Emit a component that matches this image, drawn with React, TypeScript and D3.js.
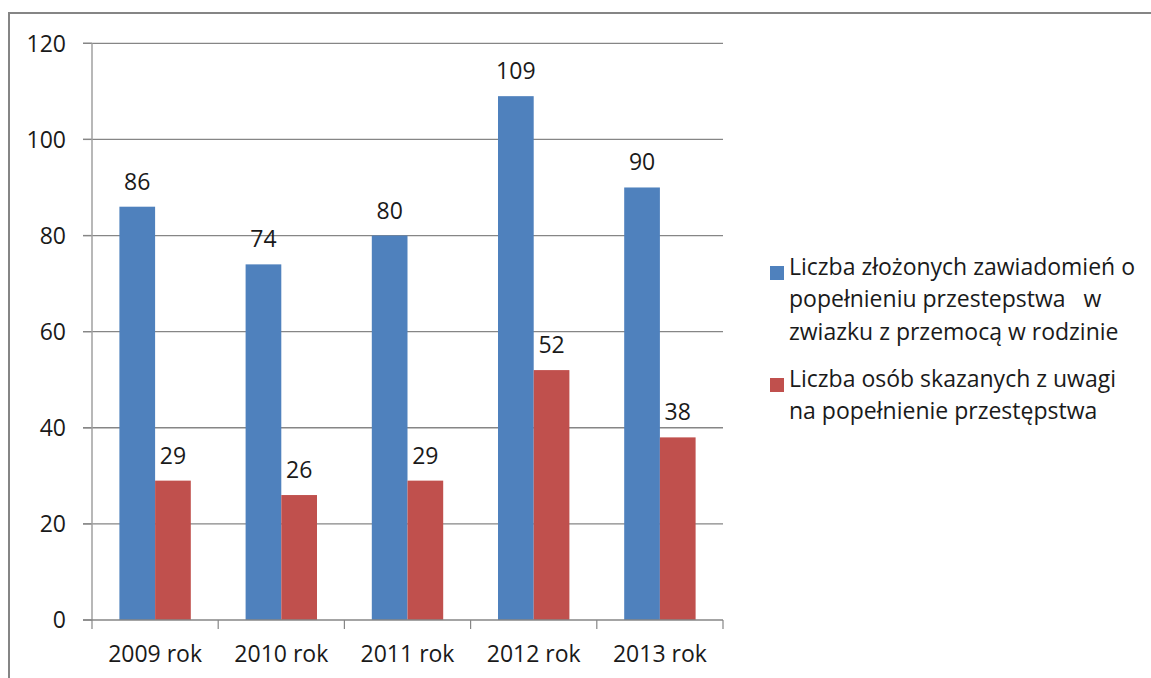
import React from "react";
import * as d3 from "d3";

const years = ["2009 rok", "2010 rok", "2011 rok", "2012 rok", "2013 rok"];
const reports = [86, 74, 80, 109, 90];
const convicted = [29, 26, 29, 52, 38];
const yTicks = [0, 20, 40, 60, 80, 100, 120];
const legendBlue = ["Liczba złożonych zawiadomień o", "popełnieniu przestepstwa   w", "zwiazku z przemocą w rodzinie"];
const legendRed = ["Liczba osób skazanych z uwagi", "na popełnienie przestępstwa"];

const BLUE = "#4F81BD";
const RED = "#C0504D";
const FONT = "'Open Sans', sans-serif";

const App = () => {
  const left = 92, right = 723, top = 43.3, bottom = 620;

  const x = d3.scaleBand().domain(years).range([left, right]);
  const y = d3.scaleLinear().domain([0, 120]).range([bottom, top]);
  const barW = 35.7;
  const pad = (x.bandwidth() - 2 * barW) / 2;

  const series = [
    { vals: reports, color: BLUE, off: 0 },
    { vals: convicted, color: RED, off: 1 },
  ];

  return (
    <svg width={1151} height={678} style={{ position: "absolute", left: 0, top: 0 }}
      fontFamily={FONT} fill="#000">
      <rect x={0} y={0} width={1151} height={678} fill="#fff" />
      <rect x={9} y={13} width={1200} height={700} fill="none" stroke="#858585" strokeWidth={2} />

      {/* grid + y ticks */}
      {yTicks.map(t => (
        <g key={t}>
          {t > 0 && <line x1={83} x2={right} y1={y(t)} y2={y(t)} stroke="#868686" strokeWidth={1.3} />}
          <line x1={83} x2={left} y1={y(t)} y2={y(t)} stroke="#868686" strokeWidth={1.3} />
          <text x={66} y={y(t)} dy="0.36em" textAnchor="end" fontSize={23} fill="#1a1a1a">{t}</text>
        </g>
      ))}

      {/* bars */}
      {series.map((s, si) => (
        <g key={si}>
          {s.vals.map((v, i) => {
            const bx = x(years[i])! + pad + s.off * barW;
            return (
              <g key={i}>
                <rect x={bx} y={y(v)} width={barW} height={bottom - y(v)} fill={s.color} />
                <text x={bx + barW / 2} y={y(v) - 17} textAnchor="middle" fontSize={23} fill="#1a1a1a">{v}</text>
              </g>
            );
          })}
        </g>
      ))}

      {/* axes */}
      <line x1={left} x2={left} y1={top} y2={bottom} stroke="#a0a0a0" strokeWidth={1.5} />
      <line x1={83} x2={right} y1={bottom} y2={bottom} stroke="#868686" strokeWidth={1.5} />
      {[...years.map(yr => x(yr)!), right].map((tx, i) => (
        <line key={i} x1={tx} x2={tx} y1={bottom} y2={bottom + 9} stroke="#868686" strokeWidth={1.2} />
      ))}
      {years.map(yr => (
        <text key={yr} x={x(yr)! + x.bandwidth() / 2} y={662} textAnchor="middle" fontSize={23} fill="#1a1a1a">{yr}</text>
      ))}

      {/* legend */}
      <rect x={770} y={266} width={14} height={14} fill={BLUE} />
      {legendBlue.map((l, i) => (
        <text key={i} x={789} y={275 + i * 32.3} fontSize={23} fill="#1a1a1a" style={{ whiteSpace: "pre" }}>{l}</text>
      ))}
      <rect x={770} y={378} width={14} height={14} fill={RED} />
      {legendRed.map((l, i) => (
        <text key={i} x={789} y={387 + i * 32.3} fontSize={23} fill="#1a1a1a">{l}</text>
      ))}
    </svg>
  );
};

export default App;
